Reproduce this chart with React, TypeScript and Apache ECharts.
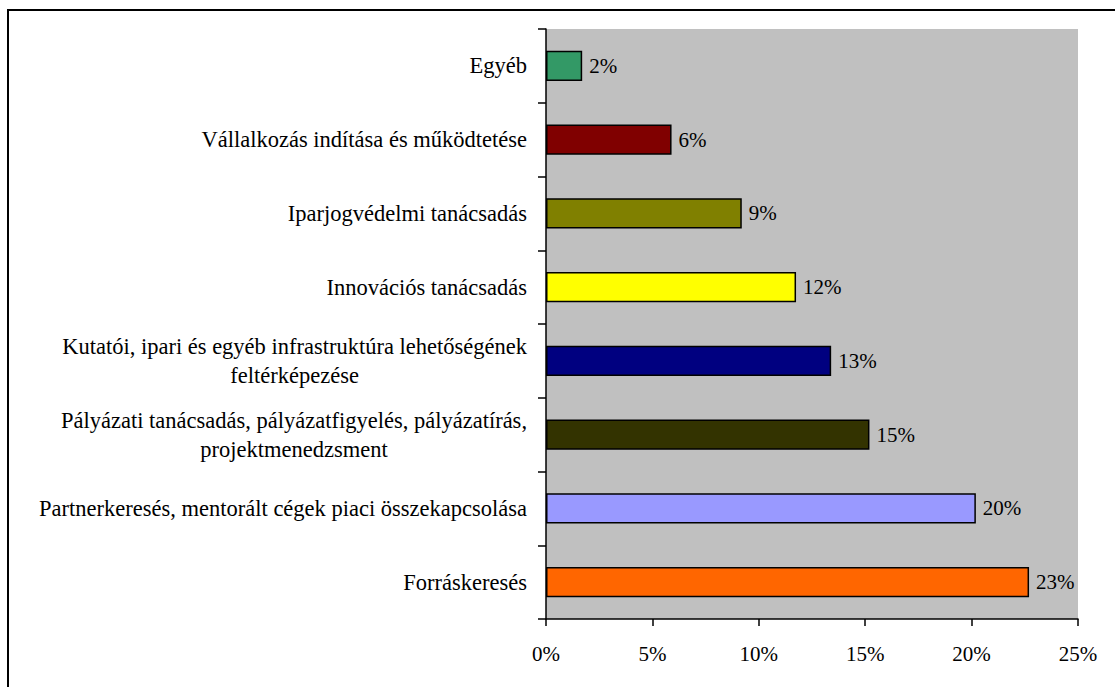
import React, { useEffect, useRef } from "react";
import * as echarts from "echarts";

const categories = [
  "Forráskeresés",
  "Partnerkeresés, mentorált cégek piaci összekapcsolása",
  "Pályázati tanácsadás, pályázatfigyelés, pályázatírás,\nprojektmenedzsment",
  "Kutatói, ipari és egyéb infrastruktúra lehetőségének\nfeltérképezése",
  "Innovációs tanácsadás",
  "Iparjogvédelmi tanácsadás",
  "Vállalkozás indítása és működtetése",
  "Egyéb",
];
const values = [22.7, 20.2, 15.2, 13.4, 11.75, 9.2, 5.9, 1.7];
const colors = ["#FF6600", "#9999FF", "#333300", "#000080", "#FFFF00", "#808000", "#800000", "#339966"];
const xTicks = [0, 5, 10, 15, 20, 25];

const FONT = "'Liberation Serif', 'Times New Roman', serif";

export default function App() {
  const ref = useRef<HTMLDivElement>(null);
  useEffect(() => {
    const chart = echarts.init(ref.current!, null, { renderer: "svg" });
    chart.setOption({
      animation: false,
      backgroundColor: "#ffffff",
      textStyle: { fontFamily: FONT },
      grid: { left: 546, right: 37, top: 29, bottom: 68, containLabel: false, show: true, backgroundColor: "#C0C0C0", borderWidth: 0 },
      xAxis: {
        type: "value",
        min: xTicks[0],
        max: xTicks[xTicks.length - 1],
        interval: 5,
        splitLine: { show: false },
        axisLine: { show: true, lineStyle: { color: "#000", width: 1.5 } },
        axisTick: { show: true, length: 7, lineStyle: { color: "#000", width: 1.5 } },
        axisLabel: { formatter: (v: number) => v + "%", fontFamily: FONT, fontSize: 21, color: "#000", margin: 24 },
      },
      yAxis: {
        type: "category",
        data: categories,
        axisLine: { show: true, lineStyle: { color: "#000", width: 1.5 } },
        axisTick: { show: true, length: 8, alignWithLabel: false, lineStyle: { color: "#000", width: 1.5 } },
        axisLabel: {
          fontFamily: FONT,
          fontSize: 22.5,
          lineHeight: 29,
          color: "#000",
          margin: 19,
          formatter: (v: string) => v.split("\n").map((l) => "{c|" + l + "}").join("\n"),
          rich: { c: { align: "center", fontFamily: FONT, fontSize: 22.5, color: "#000", lineHeight: 29 } },
        },
      },
      series: [
        {
          type: "bar",
          data: values.map((v, i) => ({ value: v, itemStyle: { color: colors[i] } })),
          barCategoryGap: "59%",
          itemStyle: { borderColor: "#000", borderWidth: 1.5 },
          label: {
            show: true,
            position: "right",
            distance: 7,
            fontFamily: FONT,
            fontSize: 21,
            color: "#000",
            formatter: (p: any) => Math.round(p.value) + "%",
          },
        },
      ],
      graphic: [
        { type: "rect", shape: { x: 8, y: 10, width: 1300, height: 1000 }, style: { fill: "none", stroke: "#000", lineWidth: 2 }, z: 100 },
      ],
    });
    return () => chart.dispose();
  }, []);
  return <div ref={ref} style={{ position: "absolute", left: 0, top: 0, width: 1115, height: 687 }} />;
}
